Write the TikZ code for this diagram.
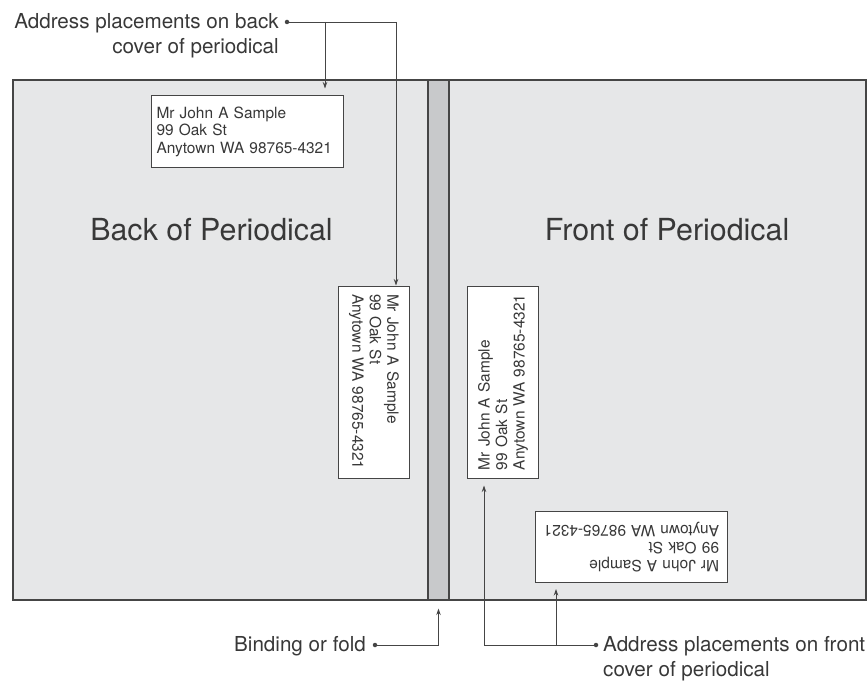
\documentclass[tikz,border=0pt]{standalone}
\usepackage{fontspec}
\setmainfont{TeX Gyre Heros}
\usetikzlibrary{arrows.meta}
\definecolor{pagefill}{HTML}{E6E7E8}
\definecolor{bindfill}{HTML}{C8C9CB}
\definecolor{linec}{HTML}{454545}
\definecolor{txtc}{HTML}{383838}
\begin{document}
\begin{tikzpicture}[x=1bp,y=-1bp,
  coverbox/.style={draw=linec, line width=1.3bp, fill=pagefill, inner sep=0pt},
  bindbox/.style={draw=linec, line width=1.1bp, fill=bindfill, inner sep=0pt, minimum width=21bp, minimum height=520bp},
  addr/.style={draw=linec, line width=1bp, fill=white, minimum height=71bp, text width=176bp, inner xsep=8bp, inner ysep=0pt, align=left, font=\fontsize{15.5}{17.5}\selectfont, text=txtc},
  lbl/.style={font=\fontsize{20.7}{25.5}\selectfont, text=txtc, inner sep=0pt},
  title/.style={font=\fontsize{30.5}{36}\selectfont, text=txtc, inner sep=0pt},
  dotmark/.style={circle, fill=linec, inner sep=0pt, minimum size=4.5bp},
  conn/.style={draw=linec, line width=0.9bp},
  arr/.style={conn, -{Stealth[length=6.5bp,width=4.5bp]}}
]
\useasboundingbox (0,0) rectangle (868,684);

% covers
\node[coverbox, minimum width=853bp, minimum height=520bp] (cover) at (439.5,340) {};
\node[bindbox] (bind) at (438.5,340) {};
\node[title, anchor=base] (back) at (211.5,240) {Back of Periodical};
\node[title, anchor=base] (front) at (667,240) {Front of Periodical};

% address labels
\node[addr, text width=182bp, inner xsep=5bp] (topbox) at (247.5,131.5) {Mr John A Sample\\99 Oak St\\Anytown WA 98765-4321};
\node[addr, rotate=-90] (rotL) at (374,382) {Mr John A Sample\\99 Oak St\\Anytown WA 98765-4321};
\node[addr, rotate=90] (rotR) at (503,382) {Mr John A Sample\\99 Oak St\\Anytown WA 98765-4321};
\node[addr, rotate=180] (upbox) at (631,547) {Mr John A Sample\\99 Oak St\\Anytown WA 98765-4321};

% callout: back
\node[lbl, anchor=base east, align=right] (tBack) at (279,53.5) {Address placements on back\\cover of periodical};
\node[dotmark] (dBack) at (287,22) {};
\coordinate (cB1) at (325,22);
\coordinate (cB2) at (396,22);
\draw[conn] (dBack.center) -- (cB2);
\draw[arr, shorten >=7bp] (cB1) -- (cB1 |- topbox.north);
\draw[arr] (cB2) -- (cB2 |- rotL.west);

% callout: binding
\node[lbl, anchor=base east] (tBind) at (366,651) {Binding or fold};
\node[dotmark] (dBind) at (375,645) {};
\draw[arr, shorten >=8bp] (dBind.center) -| (bind.south);

% callout: front
\node[lbl, anchor=base west, align=left] (tFront) at (603,676.5) {Address placements on front\\cover of periodical};
\node[dotmark] (dFront) at (596,645) {};
\coordinate (cF1) at (484,645);
\coordinate (cF2) at (556,645);
\draw[conn] (dFront.center) -- (cF1);
\draw[arr, shorten >=7bp] (cF1) -- (cF1 |- rotR.west);
\draw[arr, shorten >=6bp] (cF2) -- (cF2 |- upbox.north);
\end{tikzpicture}
\end{document}
